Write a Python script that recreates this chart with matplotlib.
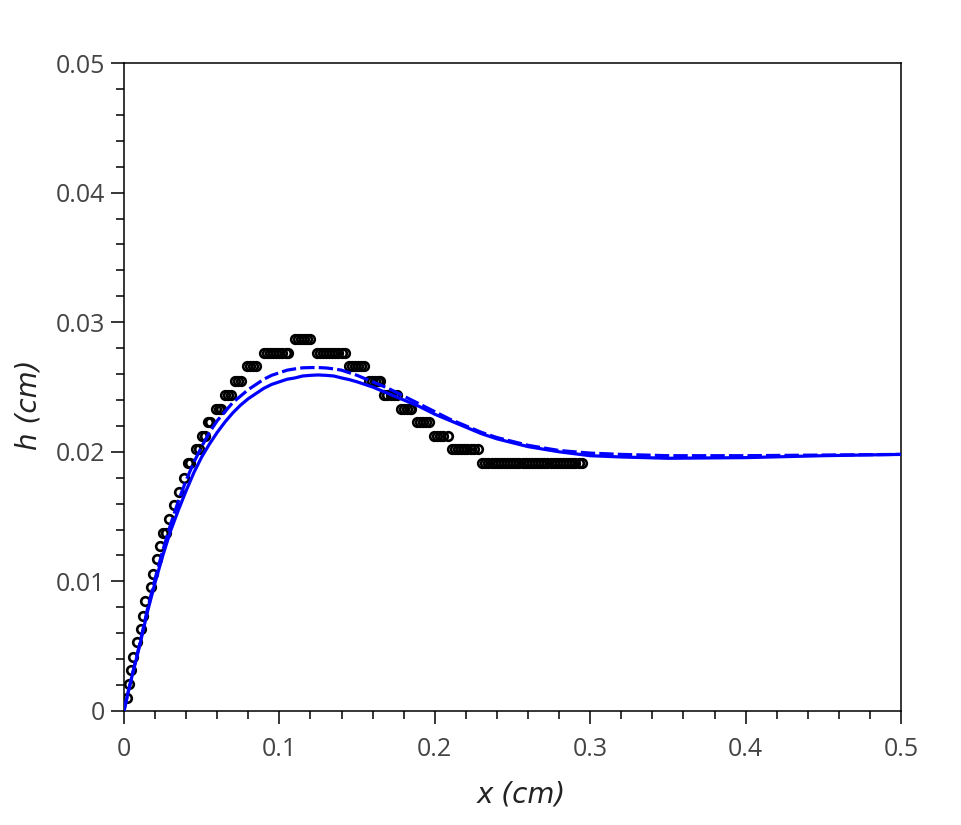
import matplotlib
matplotlib.use("Agg")
import matplotlib.pyplot as plt
from matplotlib.ticker import MultipleLocator, FuncFormatter

plt.rcParams["font.family"] = ["Open Sans", "DejaVu Sans"]

x_exp = [0.0021, 0.0032, 0.0045, 0.0060, 0.0082, 0.0107, 0.0124, 0.0138,
         0.0172, 0.0189, 0.0210, 0.0232, 0.0251, 0.0270, 0.0292, 0.0319,
         0.0352, 0.0386, 0.0410, 0.0425, 0.0465, 0.0480, 0.0505, 0.0520,
         0.0540, 0.0555, 0.0595, 0.0610, 0.0625, 0.0650, 0.0670, 0.0690,
         0.0715, 0.0735, 0.0755, 0.0790, 0.0810, 0.0830, 0.0850,
         0.0900, 0.0920, 0.0940, 0.0960, 0.0980, 0.1000, 0.1020, 0.1040, 0.1055,
         0.1100, 0.1120, 0.1140, 0.1160, 0.1180, 0.1200,
         0.1240, 0.1260, 0.1280, 0.1300, 0.1320, 0.1340, 0.1360, 0.1380, 0.1400, 0.1420,
         0.1445, 0.1465, 0.1485, 0.1505, 0.1525, 0.1545,
         0.1575, 0.1595, 0.1615, 0.1635, 0.1650,
         0.1675, 0.1695, 0.1715, 0.1735, 0.1755,
         0.1780, 0.1800, 0.1820, 0.1840, 0.1850,
         0.1885, 0.1905, 0.1925, 0.1945, 0.1965,
         0.1995, 0.2015, 0.2035, 0.2055, 0.2085,
         0.2110, 0.2130, 0.2150, 0.2170, 0.2190, 0.2210, 0.2230, 0.2250, 0.2280,
         0.2305, 0.2325, 0.2345, 0.2365, 0.2385, 0.2405, 0.2425, 0.2445, 0.2465,
         0.2485, 0.2505, 0.2525, 0.2545, 0.2565, 0.2585, 0.2605, 0.2625, 0.2645,
         0.2665, 0.2685, 0.2705, 0.2725, 0.2745, 0.2765, 0.2785, 0.2805, 0.2825,
         0.2845, 0.2865, 0.2885, 0.2905, 0.2925, 0.2945]
h_exp = [0.0010, 0.0021, 0.0032, 0.0042, 0.0053, 0.0063, 0.0073, 0.0085,
         0.0096, 0.0106, 0.0117, 0.0127, 0.0137, 0.0137, 0.0148, 0.0159,
         0.0169, 0.0180, 0.0191, 0.0191, 0.0202, 0.0202, 0.0212, 0.0212,
         0.0223, 0.0223, 0.0233, 0.0233, 0.0233, 0.0244, 0.0244, 0.0244,
         0.0255, 0.0255, 0.0255, 0.0266, 0.0266, 0.0266, 0.0266]
h_exp += [0.0276] * 9 + [0.0287] * 6 + [0.0276] * 10 + [0.0266] * 6
h_exp += [0.0255] * 5 + [0.0244] * 5 + [0.0233] * 5 + [0.0223] * 5
h_exp += [0.0212] * 5 + [0.0202] * 9 + [0.0191] * 33

# model curves
x_mod = [0, 0.0025, 0.005, 0.0075, 0.01, 0.015, 0.02, 0.025, 0.03, 0.035,
         0.04, 0.045, 0.05, 0.055, 0.06, 0.065, 0.07, 0.075, 0.08, 0.085,
         0.09, 0.095, 0.10, 0.105, 0.11, 0.115, 0.12, 0.125, 0.13, 0.135,
         0.14, 0.145, 0.15, 0.16, 0.17, 0.18, 0.19, 0.20, 0.21, 0.22, 0.23,
         0.24, 0.25, 0.26, 0.27, 0.28, 0.30, 0.32, 0.35, 0.40, 0.45, 0.50]
h_solid = [0, 0.00135, 0.0026, 0.0038, 0.0050, 0.0076, 0.0099, 0.0120,
           0.0139, 0.0155, 0.0170, 0.0184, 0.0196, 0.0206, 0.0215, 0.0223,
           0.0230, 0.0236, 0.0241, 0.0245, 0.0249, 0.0252, 0.0254, 0.0256,
           0.0257, 0.02585, 0.0259, 0.02593, 0.0259, 0.02585, 0.0257, 0.02557,
           0.0254, 0.0250, 0.0245, 0.0240, 0.0235, 0.0229, 0.0224, 0.0219,
           0.0214, 0.0210, 0.0207, 0.0204, 0.0202, 0.0200, 0.0197, 0.0196,
           0.0195, 0.01955, 0.0197, 0.0198]
h_dash = [0, 0.00135, 0.0026, 0.0039, 0.0051, 0.0078, 0.0102, 0.0124,
          0.0144, 0.0162, 0.0178, 0.0192, 0.0204, 0.0215, 0.0224, 0.0231,
          0.0238, 0.0243, 0.0248, 0.0252, 0.0256, 0.0259, 0.0261, 0.0263,
          0.0264, 0.02648, 0.0265, 0.0265, 0.02647, 0.0264, 0.0263, 0.0261,
          0.0259, 0.0254, 0.0249, 0.0243, 0.0237, 0.0231, 0.0225, 0.0220,
          0.0215, 0.0211, 0.0208, 0.0205, 0.0203, 0.0201, 0.0199, 0.0198,
          0.0197, 0.0197, 0.01975, 0.0198]

fig = plt.figure(figsize=(9.61, 8.25), dpi=100)
ax = fig.add_axes([0.129, 0.1382, 0.8086, 0.7854])

ax.plot(x_exp, h_exp, "o", ms=6.2, mfc="none", mec="black", mew=1.9, zorder=2)
ax.plot(x_mod, h_solid, "-", color="#0000ff", lw=2.3, zorder=3)
ax.plot(x_mod, h_dash, color="#0000ff", lw=2.3, ls=(0, (4.5, 1.3)), zorder=3)

ax.set_xlim(0, 0.5)
ax.set_ylim(0, 0.05)
ax.xaxis.set_major_locator(MultipleLocator(0.1))
ax.xaxis.set_minor_locator(MultipleLocator(0.02))
ax.yaxis.set_major_locator(MultipleLocator(0.01))
ax.yaxis.set_minor_locator(MultipleLocator(0.002))
fmt = FuncFormatter(lambda v, p: "0" if abs(v) < 1e-12 else f"{v:g}")
ax.xaxis.set_major_formatter(fmt)
ax.yaxis.set_major_formatter(fmt)

ax.tick_params(which="both", direction="out", top=False, right=False,
               width=1.1, color="black")
ax.tick_params(which="major", length=9.5, labelsize=18, labelcolor="#444444", pad=4)
ax.tick_params(which="minor", length=5.5)
ax.tick_params(axis="x", which="major", pad=9)
for s in ax.spines.values():
    s.set_linewidth(1.1)

lab = dict(fontsize=20, style="italic", color="#222222", family="DejaVu Sans")
ax.set_xlabel("x (cm)", **lab)
ax.set_ylabel("h (cm)", **lab)
ax.xaxis.set_label_coords(0.512, -0.108)
ax.yaxis.set_label_coords(-0.105, 0.472)

fig.savefig("out.png", dpi=100, facecolor="white")
